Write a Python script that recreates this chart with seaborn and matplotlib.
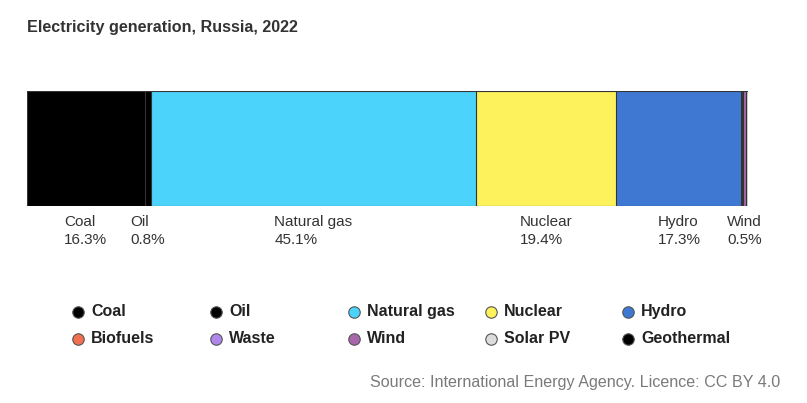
import matplotlib
matplotlib.use("Agg")
import matplotlib.pyplot as plt
import matplotlib.transforms as mtransforms
import seaborn as sns
import pandas as pd
import numpy as np

# data (share of generation, %)
sources = ["Coal", "Oil", "Natural gas", "Nuclear", "Hydro",
           "Biofuels", "Waste", "Wind", "Solar PV", "Geothermal"]
shares = [16.3, 0.8, 45.1, 19.4, 17.3, 0.03, 0.15, 0.5, 0.2, 0.04]
colors = ["#000000", "#000000", "#4cd3fc", "#fdf15c", "#3f78d3",
          "#f26f50", "#b186ea", "#a767aa", "#dcdcdc", "#000000"]
labelled = ["Coal", "Oil", "Natural gas", "Nuclear", "Hydro", "Wind"]

df = pd.DataFrame({"source": sources, "share": shares, "color": colors})
df["end"] = df["share"].cumsum()
df["start"] = df["end"] - df["share"]
df["mid"] = (df["start"] + df["end"]) / 2
total = df["end"].iloc[-1]

sns.set_style("white")
plt.rcParams["font.family"] = ["Liberation Sans", "DejaVu Sans"]

W, H = 807, 403
fig = plt.figure(figsize=(W / 100, H / 100), dpi=100)

# bar axes
ax = fig.add_axes([27 / W, 1 - 206 / H, (748 - 27) / W, (206 - 91) / H])
# draw cumulative bars from the last one back so each segment shows
for _, row in df.iloc[::-1].iterrows():
    sns.barplot(x=[row["end"]], y=["Russia"], color=row["color"], orient="h",
                width=1.0, edgecolor="#333333", linewidth=0.8, saturation=1,
                ax=ax)
ax.set_xlim(0, total)
ax.set_ylim(0.5, -0.5)
ax.axis("off")

# labels under the bar
trans = mtransforms.blended_transform_factory(ax.transData, fig.transFigure)
for _, row in df[df["source"].isin(labelled)].iterrows():
    ax.text(row["mid"], 1 - 215 / H, f"{row['source']}\n{row['share']:.1f}%",
            transform=trans, ha="center", va="top", multialignment="left",
            fontsize=11, linespacing=1.4, color="#333333")

# overlay axes in pixel coordinates for title, legend, source
ov = fig.add_axes([0, 0, 1, 1], zorder=-1)
ov.set_xlim(0, W)
ov.set_ylim(H, 0)
ov.axis("off")

ov.text(27, 27.5, "Electricity generation, Russia, 2022", fontsize=11.6,
        fontweight="bold", color="#333333", ha="left", va="center")

col_x = [78, 216, 354, 491, 628]
row_y = [311.5, 338.5]
for i, (name, c) in enumerate(zip(sources, colors)):
    x = col_x[i % 5]
    y = row_y[i // 5]
    ov.scatter([x], [y], s=68, color=c, edgecolor="#555555", linewidth=0.8)
    ov.text(x + 13, y, name, fontsize=11.5, fontweight="bold",
            color="#222222", ha="left", va="center")

ov.text(780, 383, "Source: International Energy Agency. Licence: CC BY 4.0",
        fontsize=11.6, color="#7a7a7a", ha="right", va="center")

fig.savefig("out.png", dpi=100)
